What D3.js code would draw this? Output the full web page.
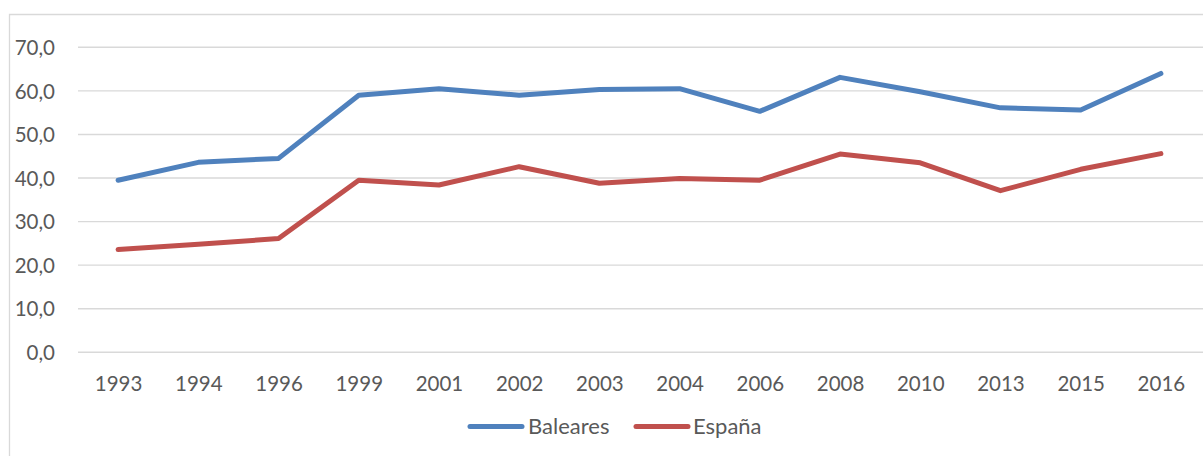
<!DOCTYPE html>
<html>
<head>
<meta charset="utf-8">
<script src="https://cdn.jsdelivr.net/npm/d3@7"></script>
<style>
  html, body { margin: 0; padding: 0; background: #fff; }
  svg { display: block; }
  text { font-family: Lato, "Open Sans", sans-serif; fill: #595959; }
</style>
</head>
<body>
<svg id="chart" width="1203" height="456"></svg>
<script>
// Years shown on the category axis
const years = ["1993","1994","1996","1999","2001","2002","2003","2004","2006","2008","2010","2013","2015","2016"];
// Series values (%)
const baleares = [39.5, 43.6, 44.5, 59.0, 60.5, 59.0, 60.3, 60.5, 55.3, 63.1, 59.8, 56.1, 55.6, 64.0];
const espana   = [23.6, 24.8, 26.1, 39.5, 38.4, 42.6, 38.8, 39.9, 39.5, 45.5, 43.5, 37.1, 42.0, 45.6];
const seriesNames = ["Baleares", "España"];
const yTicks = [0, 10, 20, 30, 40, 50, 60, 70];

const colors = ["#4F81BD", "#C0504D"];
const series = [baleares, espana];

const svg = d3.select("#chart");
const W = 1203, H = 456;
const plot = { left: 78, right: 1201, top: 47.3, bottom: 352.3 };
const axisFont = 20.5;
const legendFont = 22;

// Outer chart frame (extends beyond the visible area on the right and bottom)
svg.append("path")
  .attr("d", `M9.5,${H + 5} L9.5,14.5 L${W + 5},14.5`)
  .attr("fill", "none")
  .attr("stroke", "#d9d9d9")
  .attr("stroke-width", 1.3);

const x = d3.scalePoint().domain(years).range([plot.left, plot.right]).padding(0.5);
const y = d3.scaleLinear().domain([0, 70]).range([plot.bottom, plot.top]);

const fmt = v => d3.format(".1f")(v).replace(".", ",");

// Horizontal gridlines
svg.append("g")
  .selectAll("line")
  .data(yTicks)
  .join("line")
  .attr("x1", plot.left)
  .attr("x2", plot.right + 2)
  .attr("y1", d => y(d))
  .attr("y2", d => y(d))
  .attr("stroke", "#d9d9d9")
  .attr("stroke-width", 1.4);

// Y axis labels
const yAxis = d3.axisLeft(y).tickValues(yTicks).tickFormat(fmt).tickSize(0).tickPadding(0);
const gy = svg.append("g").attr("transform", "translate(55,0)").call(yAxis);
gy.select(".domain").remove();
gy.selectAll("text")
  .attr("font-size", axisFont)
  .attr("font-family", "Lato, 'Open Sans', sans-serif")
  .attr("fill", "#595959")
  .attr("dy", "0.35em");

// X axis labels
const xAxis = d3.axisBottom(x).tickSize(0).tickPadding(0);
const gx = svg.append("g").attr("transform", "translate(0,383.5)").call(xAxis);
gx.select(".domain").remove();
gx.selectAll("text")
  .attr("font-size", axisFont)
  .attr("font-family", "Lato, 'Open Sans', sans-serif")
  .attr("fill", "#595959")
  .attr("dy", "0.35em");

// Lines
const line = d3.line()
  .x((d, i) => x(years[i]))
  .y(d => y(d));

series.forEach((s, k) => {
  svg.append("path")
    .datum(s)
    .attr("d", line)
    .attr("fill", "none")
    .attr("stroke", colors[k])
    .attr("stroke-width", 5)
    .attr("stroke-linejoin", "round")
    .attr("stroke-linecap", "round");
});

// Legend
const legendItems = [
  { name: seriesNames[0], color: colors[0], x1: 470, x2: 522, tx: 528 },
  { name: seriesNames[1], color: colors[1], x1: 636, x2: 688, tx: 693 }
];
const lg = svg.append("g");
legendItems.forEach(it => {
  lg.append("line")
    .attr("x1", it.x1).attr("x2", it.x2)
    .attr("y1", 426.5).attr("y2", 426.5)
    .attr("stroke", it.color)
    .attr("stroke-width", 5)
    .attr("stroke-linecap", "round");
  lg.append("text")
    .attr("x", it.tx)
    .attr("y", 426.5)
    .attr("dy", "0.35em")
    .attr("font-size", legendFont)
    .text(it.name);
});
</script>
</body>
</html>
